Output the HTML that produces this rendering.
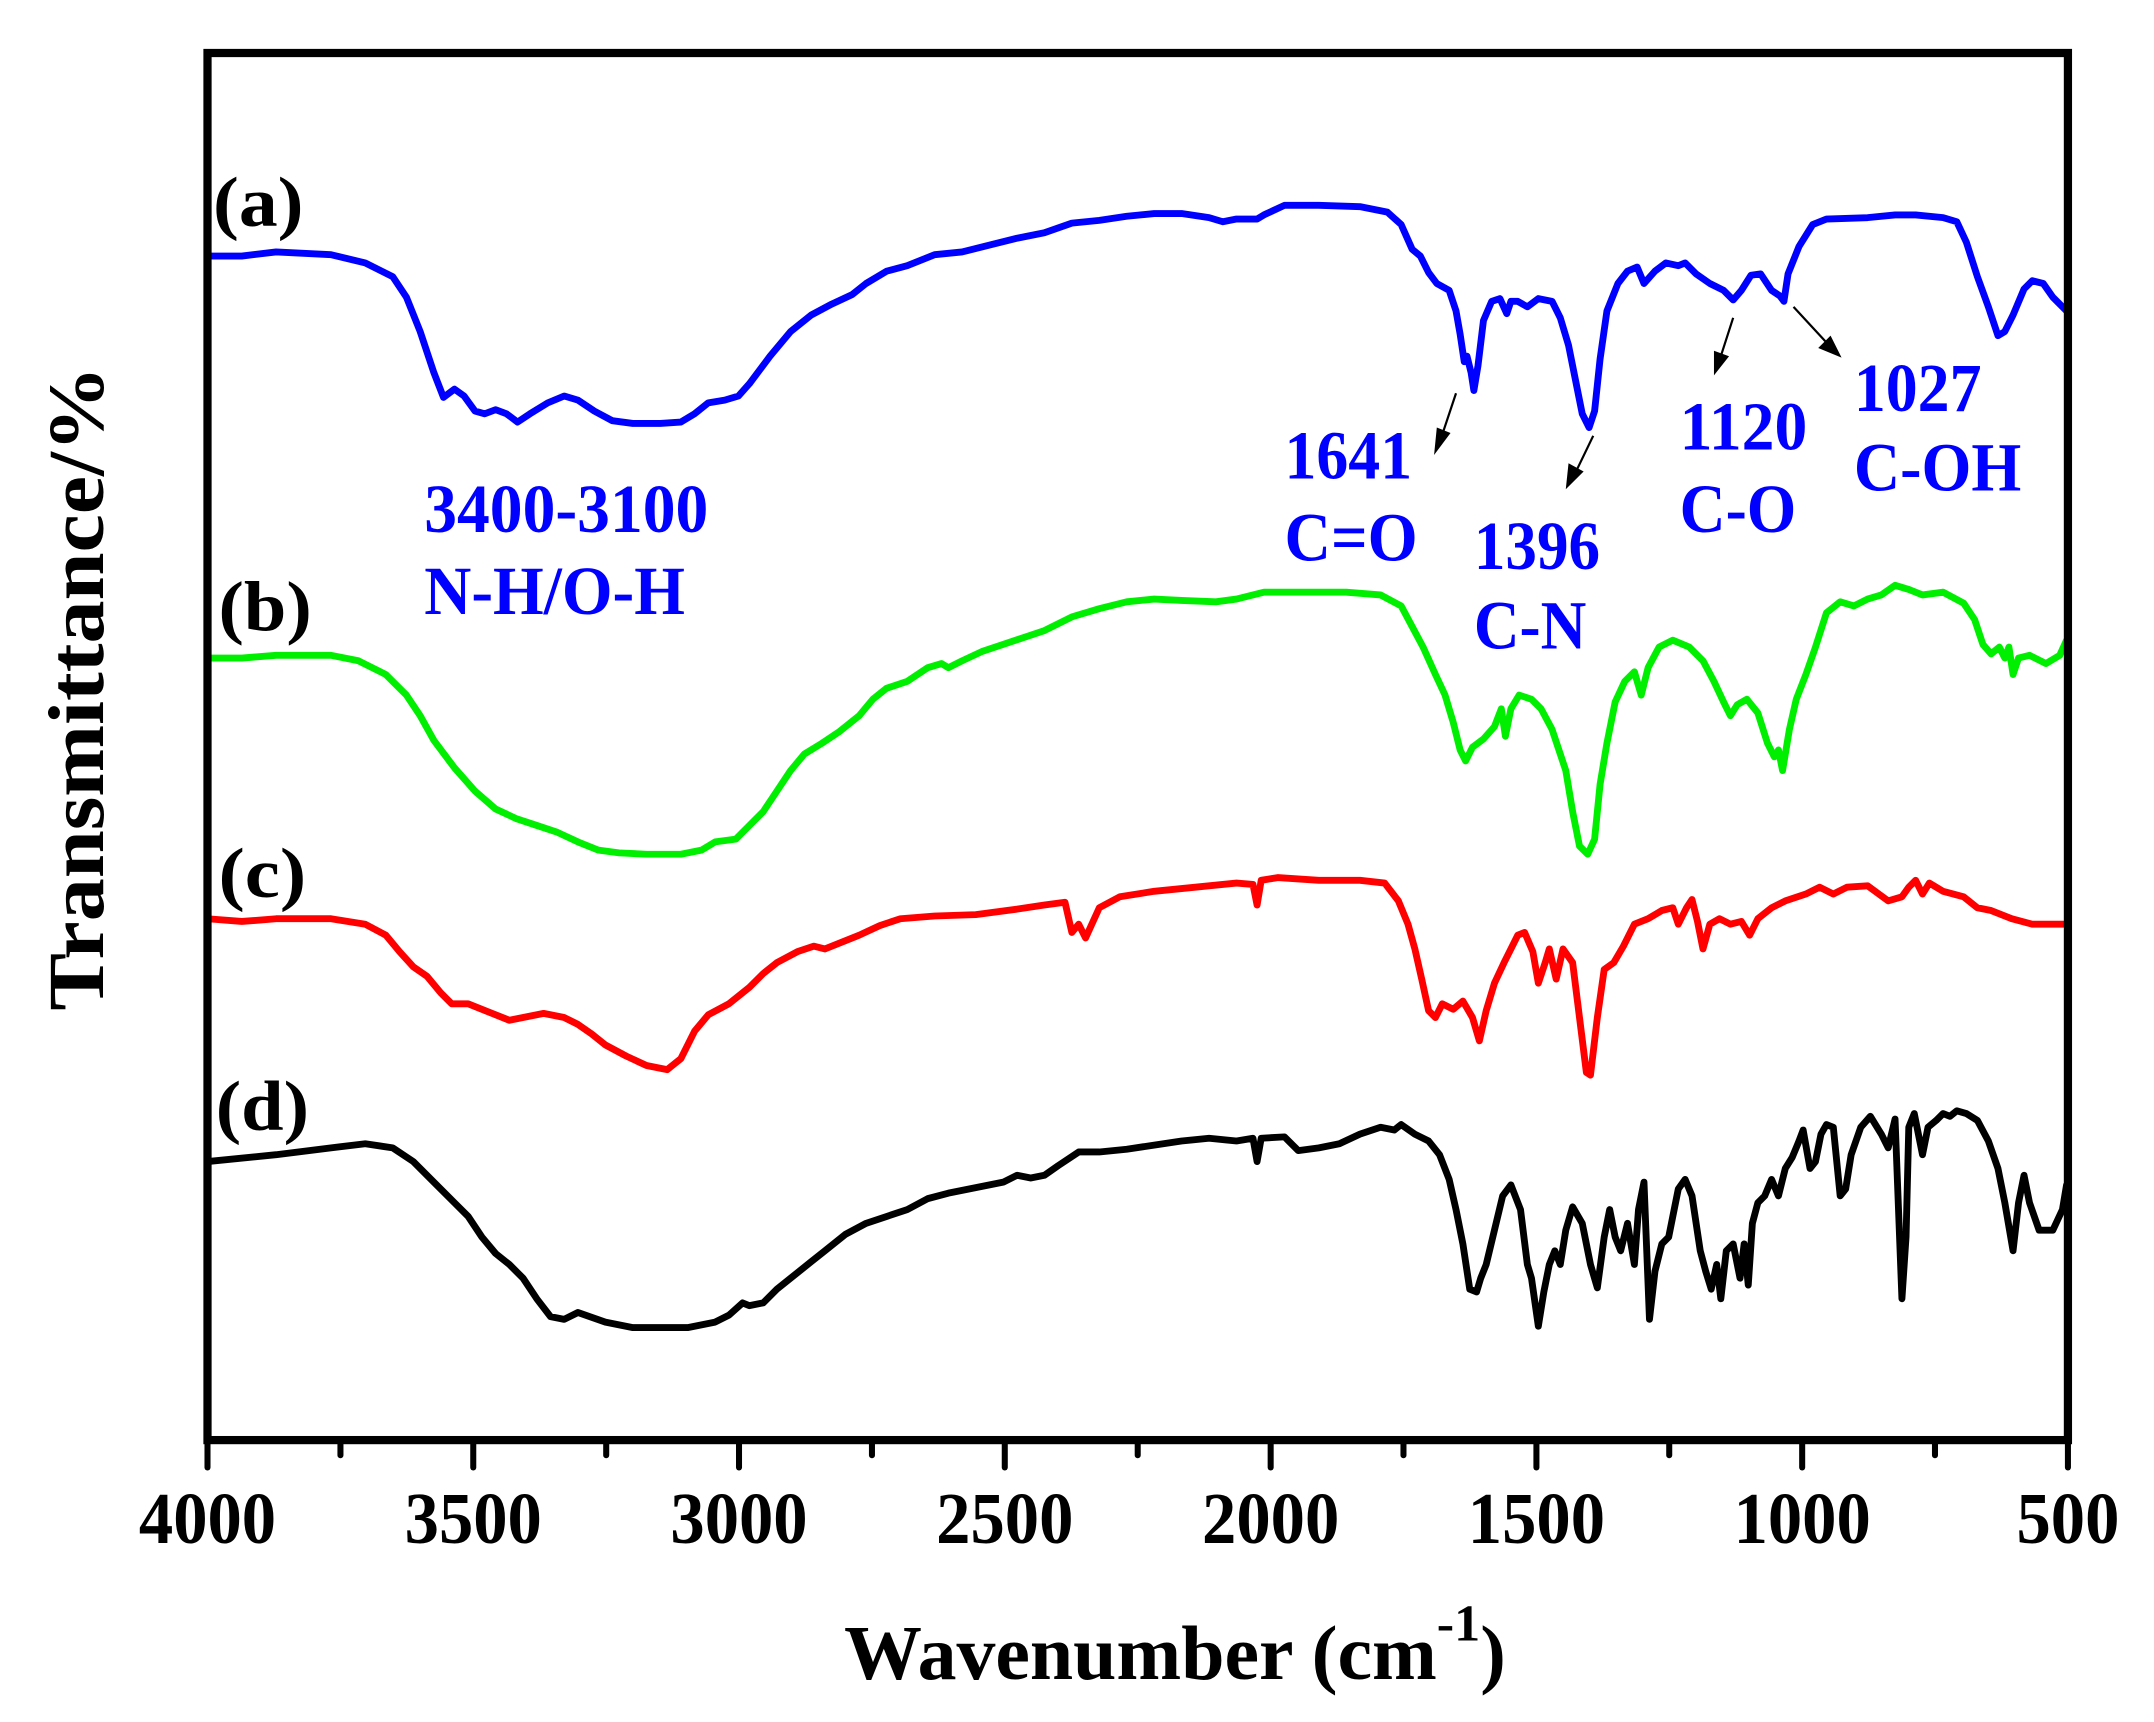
<!DOCTYPE html>
<html><head><meta charset="utf-8"><style>
html,body{margin:0;padding:0;background:#fff;}
svg{display:block;}
text{font-family:"Liberation Serif",serif;font-weight:bold;}
</style></head><body>
<svg width="2154" height="1722" viewBox="0 0 2154 1722" xmlns="http://www.w3.org/2000/svg">
<rect width="2154" height="1722" fill="#fff"/>
<g transform="translate(1.7 2.24) scale(1.372)">
<g fill="none" stroke-width="5" stroke-linejoin="round" stroke-linecap="round">
<polyline stroke="#0000ff" points="150,310 150,185 175,185 200,182 240,184 265,190 285,200 295,215 305,240 315,270 322,288 330,282 337,287 345,298 352,300 360,297 368,300 376,306 385,300 398,292 410,287 420,290 432,298 445,305 460,307 480,307 495,306 505,300 515,292 527,290 537,287 545,278 560,258 575,240 590,228 605,220 620,213 630,205 645,196 660,192 680,184 700,182 720,177 740,172 760,168 780,161 800,159 820,156 840,154 860,154 880,157 890,160 900,158 915,158 920,155 935,148 960,148 990,149 1010,153 1020,162 1028,180 1034,185 1040,197 1046,205 1055,210 1060,225 1063,242 1066,262 1068,258 1071,270 1073,283 1076,265 1080,232 1086,218 1092,216 1097,227 1100,218 1105,218 1112,222 1120,216 1130,218 1136,230 1142,250 1148,280 1152,300 1157,310 1161,298 1165,260 1170,225 1178,205 1185,196 1192,193 1197,205 1205,196 1213,190 1222,192 1227,190 1235,198 1245,205 1255,210 1262,217 1268,210 1275,199 1282,198 1290,210 1296,214 1299,218 1302,198 1310,178 1320,162 1330,158 1360,157 1380,155 1395,155 1415,157 1425,160 1432,175 1440,200 1448,222 1455,243 1460,240 1466,228 1474,209 1480,203 1488,205 1495,215 1505,225"/>
<polyline stroke="#00ee00" points="150,620 150,478 175,478 200,476 240,476 260,480 280,490 295,505 305,520 315,538 330,558 345,575 360,588 375,595 390,600 405,605 420,612 435,618 450,620 470,621 495,621 510,618 520,612 535,610 545,600 555,590 565,575 575,560 585,548 598,540 610,532 625,520 635,508 645,500 660,495 675,485 685,482 690,485 700,480 715,473 730,468 745,463 760,458 780,448 800,442 820,437 840,435 860,436 885,437 900,435 920,430 940,430 980,430 1005,432 1020,440 1028,455 1036,470 1045,490 1052,505 1058,525 1063,545 1067,553 1072,543 1080,537 1088,528 1093,515 1096,535 1100,515 1106,505 1115,508 1122,515 1130,530 1135,545 1140,560 1145,590 1150,615 1156,621 1161,610 1165,570 1170,540 1176,510 1183,495 1190,488 1195,505 1200,485 1208,470 1218,465 1230,470 1240,480 1248,495 1255,510 1260,520 1265,512 1272,508 1280,518 1287,540 1292,550 1295,545 1298,560 1303,530 1308,508 1315,490 1322,470 1330,445 1340,437 1350,440 1360,435 1370,432 1380,425 1390,428 1400,432 1415,430 1430,438 1438,450 1444,468 1450,475 1456,470 1460,478 1463,470 1466,490 1470,478 1478,476 1490,482 1500,476 1505,465"/>
<polyline stroke="#ff0000" points="150,815 150,668 175,670 200,668 240,668 265,672 280,680 290,692 300,703 310,710 320,722 328,730 340,730 355,736 370,742 380,740 395,737 410,740 420,745 430,752 440,760 455,768 470,775 485,778 495,770 505,750 515,738 530,730 545,718 555,708 565,700 580,692 592,688 600,690 610,686 625,680 640,673 655,668 680,666 710,665 740,661 760,658 775,656 780,678 785,672 790,682 800,660 815,652 840,648 870,645 900,642 912,643 915,658 918,640 930,638 960,640 990,640 1008,642 1018,655 1025,672 1030,690 1035,712 1040,735 1045,740 1050,730 1058,734 1065,728 1072,740 1077,757 1082,735 1088,715 1095,700 1100,690 1105,680 1110,678 1116,692 1120,715 1125,700 1128,690 1133,712 1138,690 1145,700 1150,740 1155,780 1158,782 1163,740 1168,705 1175,700 1182,688 1190,672 1200,668 1210,662 1218,660 1222,672 1228,660 1232,654 1236,670 1240,690 1245,672 1252,668 1260,672 1268,670 1274,680 1280,668 1290,660 1300,655 1315,650 1325,645 1335,650 1345,645 1360,644 1375,655 1385,652 1390,645 1395,640 1400,650 1405,642 1415,648 1430,652 1440,660 1450,662 1465,668 1480,672 1505,672"/>
<polyline stroke="#000" points="150,845 200,840 240,835 265,832 285,835 300,845 315,860 330,875 340,885 350,900 360,912 370,920 380,930 390,945 400,958 410,960 420,955 440,962 460,966 480,966 500,966 520,962 530,957 540,948 545,950 555,948 565,938 575,930 590,918 600,910 615,898 630,890 645,885 660,880 675,872 690,868 705,865 720,862 730,860 740,855 750,857 760,855 770,848 785,838 800,838 820,836 840,833 860,830 880,828 900,830 912,828 915,845 918,828 935,827 945,837 960,835 975,832 990,825 1005,820 1015,822 1020,818 1030,825 1040,830 1048,840 1055,858 1060,880 1065,905 1070,938 1075,940 1078,930 1082,920 1088,895 1094,870 1100,862 1107,880 1112,920 1115,930 1120,965 1124,940 1128,920 1132,910 1136,920 1140,895 1145,878 1152,890 1158,920 1163,937 1168,900 1172,880 1176,900 1180,910 1185,890 1190,920 1193,880 1197,860 1201,960 1205,925 1210,905 1215,900 1218,885 1222,865 1227,858 1232,870 1238,910 1242,925 1246,938 1250,920 1253,945 1257,910 1262,905 1267,930 1270,905 1273,935 1276,890 1280,875 1285,870 1290,858 1295,870 1300,850 1305,842 1310,830 1313,822 1318,850 1322,845 1326,825 1330,818 1335,820 1340,870 1344,865 1348,840 1355,820 1362,812 1370,825 1375,835 1380,814 1385,945 1388,900 1390,820 1394,810 1400,840 1404,820 1410,815 1415,810 1420,812 1425,808 1432,810 1440,815 1448,830 1455,850 1460,875 1466,910 1470,875 1474,855 1478,875 1485,895 1495,895 1502,880 1505,862"/>
</g>
<rect x="150" y="37" width="1356" height="1011" fill="none" stroke="#000" stroke-width="6"/>
<g stroke="#000" stroke-width="4.4" stroke-linecap="round">
<line x1="150" y1="1048" x2="150" y2="1068"/><line x1="246.9" y1="1048" x2="246.9" y2="1059"/>
<line x1="343.7" y1="1048" x2="343.7" y2="1068"/><line x1="440.6" y1="1048" x2="440.6" y2="1059"/>
<line x1="537.4" y1="1048" x2="537.4" y2="1068"/><line x1="634.3" y1="1048" x2="634.3" y2="1059"/>
<line x1="731.1" y1="1048" x2="731.1" y2="1068"/><line x1="828" y1="1048" x2="828" y2="1059"/>
<line x1="924.9" y1="1048" x2="924.9" y2="1068"/><line x1="1021.7" y1="1048" x2="1021.7" y2="1059"/>
<line x1="1118.6" y1="1048" x2="1118.6" y2="1068"/><line x1="1215.4" y1="1048" x2="1215.4" y2="1059"/>
<line x1="1312.3" y1="1048" x2="1312.3" y2="1068"/><line x1="1409.1" y1="1048" x2="1409.1" y2="1059"/>
<line x1="1506" y1="1048" x2="1506" y2="1068"/>
</g>
<g font-size="53" text-anchor="middle" fill="#000" lengthAdjust="spacingAndGlyphs">
<text x="150" y="1123" textLength="100" lengthAdjust="spacingAndGlyphs">4000</text>
<text x="343.7" y="1123" textLength="100" lengthAdjust="spacingAndGlyphs">3500</text>
<text x="537.4" y="1123" textLength="100" lengthAdjust="spacingAndGlyphs">3000</text>
<text x="731.1" y="1123" textLength="100" lengthAdjust="spacingAndGlyphs">2500</text>
<text x="924.9" y="1123" textLength="100" lengthAdjust="spacingAndGlyphs">2000</text>
<text x="1118.6" y="1123" textLength="100" lengthAdjust="spacingAndGlyphs">1500</text>
<text x="1312.3" y="1123" textLength="100" lengthAdjust="spacingAndGlyphs">1000</text>
<text x="1506" y="1123" textLength="75" lengthAdjust="spacingAndGlyphs">500</text>
</g>
<text x="614" y="1222" font-size="56" fill="#000"><tspan textLength="432" lengthAdjust="spacingAndGlyphs">Wavenumber (cm</tspan><tspan font-size="38" dy="-28">-1</tspan><tspan dy="28">)</tspan></text>
<text transform="translate(74 500) rotate(-90)" font-size="58" text-anchor="middle" fill="#000" textLength="470" lengthAdjust="spacingAndGlyphs">Transmittance/%</text>
<g font-size="52" fill="#000">
<text x="154" y="163" textLength="66" lengthAdjust="spacingAndGlyphs">(a)</text>
<text x="158" y="458" textLength="68" lengthAdjust="spacingAndGlyphs">(b)</text>
<text x="158" y="652" textLength="64" lengthAdjust="spacingAndGlyphs">(c)</text>
<text x="156" y="822" textLength="68" lengthAdjust="spacingAndGlyphs">(d)</text>
</g>
<g font-size="50" fill="#0000ff">
<text x="308" y="386" textLength="207" lengthAdjust="spacingAndGlyphs">3400-3100</text>
<text x="308" y="446" textLength="190" lengthAdjust="spacingAndGlyphs">N-H/O-H</text>
<text x="935" y="347" textLength="93" lengthAdjust="spacingAndGlyphs">1641</text>
<text x="935" y="407" textLength="97" lengthAdjust="spacingAndGlyphs">C=O</text>
<text x="1073" y="413" textLength="92" lengthAdjust="spacingAndGlyphs">1396</text>
<text x="1073" y="471" textLength="82" lengthAdjust="spacingAndGlyphs">C-N</text>
<text x="1223" y="326" textLength="93" lengthAdjust="spacingAndGlyphs">1120</text>
<text x="1223" y="386" textLength="85" lengthAdjust="spacingAndGlyphs">C-O</text>
<text x="1350" y="298" textLength="93" lengthAdjust="spacingAndGlyphs">1027</text>
<text x="1350" y="356" textLength="122" lengthAdjust="spacingAndGlyphs">C-OH</text>
</g>
<g stroke="#000" stroke-width="1.6">
<line x1="1060" y1="285" x2="1050" y2="315"/><line x1="1160" y1="316" x2="1147" y2="343"/>
<line x1="1262" y1="230" x2="1253" y2="258"/><line x1="1306" y1="222" x2="1330" y2="248"/>
</g>
<g fill="#000">
<polygon points="1044,330 1046,310 1056,314"/>
<polygon points="1140,355 1142,336 1153,342"/>
<polygon points="1248,272 1248,254 1259,258"/>
<polygon points="1341,259 1324,252 1333,243"/>
</g>
</g>
</svg>
</body></html>
